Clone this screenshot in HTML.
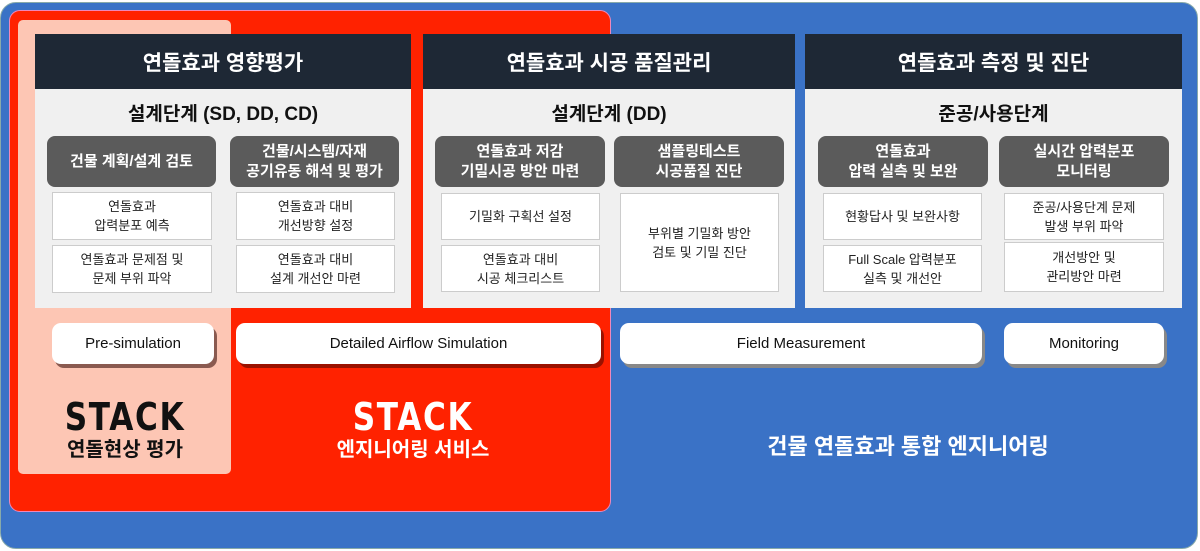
<!DOCTYPE html>
<html><head><meta charset="utf-8"><style>
*{box-sizing:border-box;margin:0;padding:0}
body{width:1200px;height:551px;background:#fff;position:relative;overflow:hidden;font-family:"Liberation Sans","Noto Sans CJK KR",sans-serif}
div{position:absolute}
.c{display:flex;align-items:center;justify-content:center;text-align:center}
.hd{background:#1e2835;color:#fff;font-size:21px;font-weight:bold;height:55px;top:0;left:0;right:0}
.sub{top:62px;left:0;right:0;height:32px;font-size:19px;font-weight:bold;color:#111}
.g{background:#5b5b5b;color:#fff;border-radius:8px;font-size:15px;font-weight:bold;line-height:20px;height:51px}
.w{background:#fff;border:1px solid #ccc;font-size:13px;line-height:19px;color:#222}
.pill{background:#fff;border-radius:9px;height:41px;top:323px;font-size:15px;color:#111;box-shadow:3px 4px 0 #8a5a50}
.stk{font-family:"DejaVu Sans","Liberation Sans",sans-serif;font-weight:bold;font-size:38px;letter-spacing:2px;transform:scaleX(0.82)}
</style></head><body>
<div style="left:0;top:2px;width:1198px;height:547px;background:#3a72c6;border-radius:16px;border:1px solid #8aa"></div>
<div style="left:9px;top:10px;width:602px;height:502px;background:#ff2200;border-radius:11px;border:1px solid #e8b"></div>
<div style="left:18px;top:20px;width:213px;height:454px;background:#fdc6b4;border-radius:5px"></div>

<div style="left:35px;top:34px;width:376px;height:274px;background:#f0f0f0">
<div class="hd c">연돌효과 영향평가</div>
<div class="sub c">설계단계 (SD, DD, CD)</div>
<div class="g c" style="left:12px;top:102px;width:169px">건물 계획/설계 검토</div>
<div class="g c" style="left:195px;top:102px;width:169px">건물/시스템/자재<br>공기유동 해석 및 평가</div>
<div class="w c" style="left:17px;top:158px;width:160px;height:48px">연돌효과<br>압력분포 예측</div>
<div class="w c" style="left:17px;top:211px;width:160px;height:48px">연돌효과 문제점 및<br>문제 부위 파악</div>
<div class="w c" style="left:201px;top:158px;width:159px;height:48px">연돌효과 대비<br>개선방향 설정</div>
<div class="w c" style="left:201px;top:211px;width:159px;height:48px">연돌효과 대비<br>설계 개선안 마련</div>
</div>

<div style="left:423px;top:34px;width:372px;height:274px;background:#f0f0f0">
<div class="hd c">연돌효과 시공 품질관리</div>
<div class="sub c">설계단계 (DD)</div>
<div class="g c" style="left:12px;top:102px;width:170px">연돌효과 저감<br>기밀시공 방안 마련</div>
<div class="g c" style="left:191px;top:102px;width:170px">샘플링테스트<br>시공품질 진단</div>
<div class="w c" style="left:18px;top:159px;width:159px;height:47px">기밀화 구획선 설정</div>
<div class="w c" style="left:18px;top:211px;width:159px;height:47px">연돌효과 대비<br>시공 체크리스트</div>
<div class="w c" style="left:197px;top:159px;width:159px;height:99px">부위별 기밀화 방안<br>검토 및 기밀 진단</div>
</div>

<div style="left:805px;top:34px;width:377px;height:274px;background:#f0f0f0">
<div class="hd c">연돌효과 측정 및 진단</div>
<div class="sub c">준공/사용단계</div>
<div class="g c" style="left:13px;top:102px;width:170px">연돌효과<br>압력 실측 및 보완</div>
<div class="g c" style="left:194px;top:102px;width:170px">실시간 압력분포<br>모니터링</div>
<div class="w c" style="left:18px;top:159px;width:159px;height:47px">현황답사 및 보완사항</div>
<div class="w c" style="left:18px;top:211px;width:159px;height:47px">Full Scale 압력분포<br>실측 및 개선안</div>
<div class="w c" style="left:199px;top:159px;width:160px;height:47px">준공/사용단계 문제<br>발생 부위 파악</div>
<div class="w c" style="left:199px;top:208px;width:160px;height:50px">개선방안 및<br>관리방안 마련</div>
</div>

<div class="pill c" style="left:52px;width:162px">Pre-simulation</div>
<div class="pill c" style="left:236px;width:365px;box-shadow:3px 4px 0 #9a1200">Detailed Airflow Simulation</div>
<div class="pill c" style="left:620px;width:362px;box-shadow:3px 4px 0 #888">Field Measurement</div>
<div class="pill c" style="left:1004px;width:160px;box-shadow:3px 4px 0 #888">Monitoring</div>

<div class="c stk" style="left:25px;top:396px;width:200px;height:42px;color:#111">STACK</div>
<div class="c" style="left:25px;top:434px;width:200px;height:26px;font-size:20px;font-weight:bold;color:#111">연돌현상 평가</div>
<div class="c stk" style="left:313px;top:396px;width:200px;height:42px;color:#fff">STACK</div>
<div class="c" style="left:293px;top:434px;width:240px;height:26px;font-size:20px;font-weight:bold;color:#fff">엔지니어링 서비스</div>
<div class="c" style="left:708px;top:430px;width:400px;height:30px;font-size:22px;font-weight:bold;color:#fff">건물 연돌효과 통합 엔지니어링</div>
</body></html>
